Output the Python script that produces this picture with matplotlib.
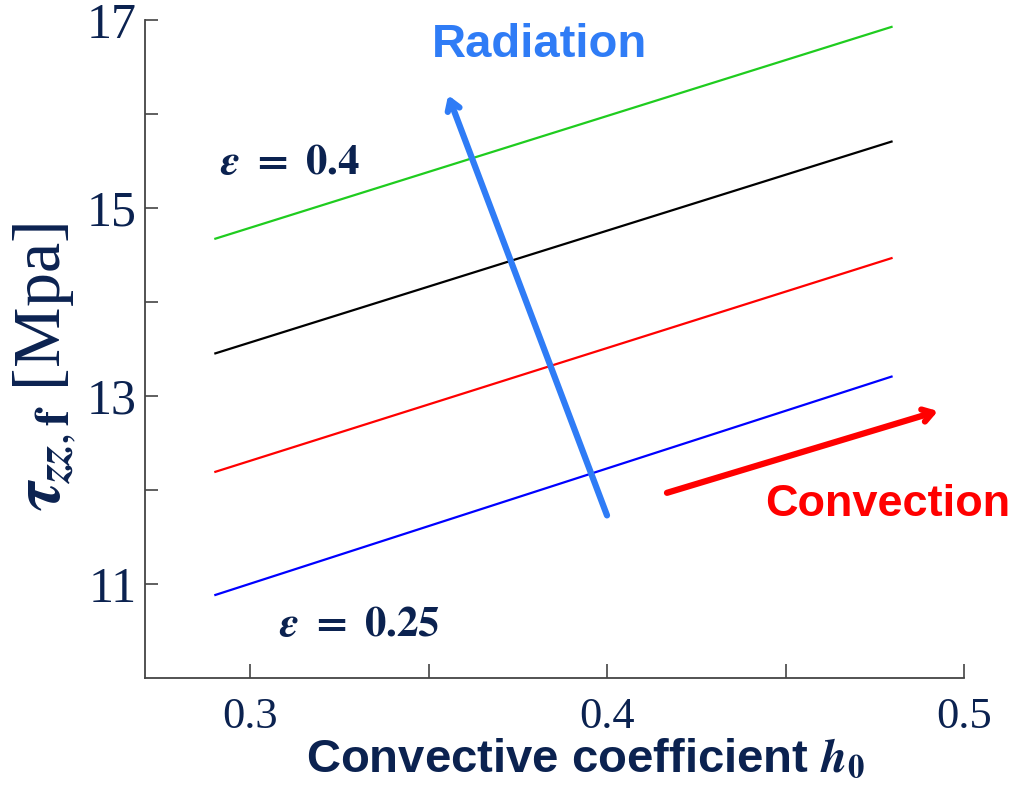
import matplotlib
matplotlib.use("Agg")
import matplotlib.pyplot as plt

# data (straight lines, end points only)
h0 = [0.29, 0.48]
tau_eps_040 = [14.67, 16.93]   # green, eps = 0.4
tau_eps_035 = [13.45, 15.71]   # black
tau_eps_030 = [12.19, 14.47]   # red
tau_eps_025 = [10.88, 13.21]   # blue, eps = 0.25

series = [tau_eps_040, tau_eps_035, tau_eps_030, tau_eps_025]
colors = ['#1fcc1f', '#000000', '#ff0000', '#0000ff']

xticks = [0.3, 0.4, 0.5]
xticklabels = ['0.3', '0.4', '0.5']
yticks = [11, 13, 15, 17]
yticklabels = ['11', '13', '15', '17']

NAVY = '#0b2250'

plt.rcParams['mathtext.fontset'] = 'stix'

fig = plt.figure(figsize=(10.2, 7.93), dpi=100)
ax = fig.add_axes([0.1422, 0.145, 0.8029, 0.8298])

for vals, c in zip(series, colors):
    ax.plot(h0, vals, color=c, linewidth=1.6, solid_capstyle='butt')

ax.set_xlim(0.2706, 0.5)
ax.set_ylim(10, 17)

ax.set_xticks(xticks)
ax.set_xticklabels(xticklabels, family='Liberation Serif', fontsize=32, color=NAVY)
ax.set_xticks([0.35, 0.45], minor=True)
ax.set_yticks(yticks)
ax.set_yticklabels(yticklabels, family='Liberation Serif', fontsize=36, color=NAVY)
ax.set_yticks([12, 14, 16], minor=True)

ax.tick_params(axis='both', which='both', direction='in', color='#444444', width=1.2)
ax.tick_params(axis='x', which='both', length=10, pad=14)
ax.tick_params(axis='y', which='both', length=9, pad=6)

for side in ['top', 'right']:
    ax.spines[side].set_visible(False)
for side in ['left', 'bottom']:
    ax.spines[side].set_color('#444444')
    ax.spines[side].set_linewidth(1.3)

ax.set_xlabel(r'Convective coefficient $\mathbfit{h}_{\mathbf{0}}$',
              family='Liberation Sans', fontweight='bold', fontsize=34, color=NAVY)
ax.xaxis.set_label_coords(0.538, -0.09)
ax.set_ylabel(r'$\mathbfit{\tau}_{\mathbfit{zz},\mathbf{f}}$ [Mpa]',
              family='Liberation Serif', fontsize=49, color=NAVY)
ax.yaxis.set_label_coords(-0.082, 0.473)

# annotations
ax.text(0.3112, 15.49, r'$\mathbfit{\varepsilon}\ \mathbf{=\ 0.4}$', fontsize=31,
        color=NAVY, ha='center', va='center')
ax.text(0.3308, 10.575, r'$\mathbfit{\varepsilon}\ \mathbf{=\ 0.25}$', fontsize=31,
        color=NAVY, ha='center', va='center')

ax.annotate('', xy=(0.3555, 16.2), xytext=(0.400, 11.73),
            arrowprops=dict(arrowstyle='->,head_length=0.7,head_width=0.45',
                            color='#2f7cf6', lw=4.5, shrinkA=0, shrinkB=0))
ax.annotate('', xy=(0.4927, 12.84), xytext=(0.4168, 11.97),
            arrowprops=dict(arrowstyle='->,head_length=0.7,head_width=0.45',
                            color='#ff0000', lw=4.5, shrinkA=0, shrinkB=0))

ax.text(0.3812, 16.73, 'Radiation', family='Liberation Sans', fontweight='bold',
        fontsize=34, color='#2f7cf6', ha='center', va='center')
ax.text(0.4787, 11.85, 'Convection', family='Liberation Sans', fontweight='bold',
        fontsize=32.5, color='#ff0000', ha='center', va='center', clip_on=False)

fig.savefig('out.png', dpi=100)
